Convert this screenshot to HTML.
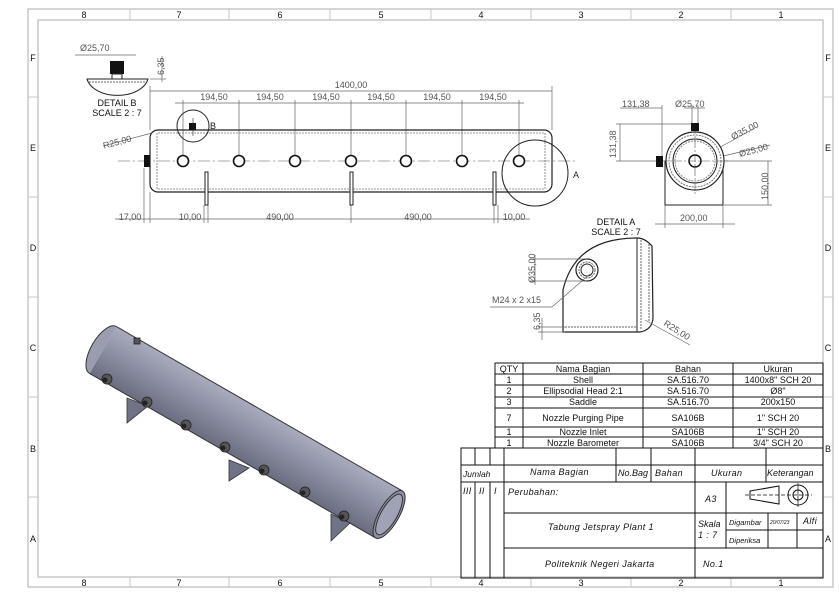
<!DOCTYPE html>
<html><head><meta charset="utf-8"><style>
html,body{margin:0;padding:0;background:#fff;}
svg{display:block;font-family:"Liberation Sans",sans-serif;}
.d{fill:#555;font-size:9px;}
.t{fill:#111;font-size:9px;text-anchor:middle;}
.i{fill:#111;font-size:9px;font-style:italic;letter-spacing:0.4px;}
</style></head><body>
<svg width="839" height="593" viewBox="0 0 839 593" xmlns="http://www.w3.org/2000/svg">
<defs>
<linearGradient id="g" x1="0" y1="0" x2="0" y2="1">
<stop offset="0" stop-color="#a9abbd"/><stop offset="0.35" stop-color="#9496ab"/><stop offset="1" stop-color="#6a6c80"/>
</linearGradient>
</defs>
<!-- border -->
<g fill="none" stroke="#c8c8c8" stroke-width="1.5">
<rect x="28" y="9" width="805" height="578"/>
<rect x="38" y="20" width="785" height="557"/>
</g>
<g stroke="#c8c8c8" stroke-width="1">
<line x1="130" y1="9" x2="130" y2="20"/><line x1="229" y1="9" x2="229" y2="20"/><line x1="330" y1="9" x2="330" y2="20"/><line x1="431" y1="9" x2="431" y2="20"/><line x1="531" y1="9" x2="531" y2="20"/><line x1="631" y1="9" x2="631" y2="20"/><line x1="731" y1="9" x2="731" y2="20"/>
<line x1="130" y1="577" x2="130" y2="587"/><line x1="229" y1="577" x2="229" y2="587"/><line x1="330" y1="577" x2="330" y2="587"/><line x1="431" y1="577" x2="431" y2="587"/><line x1="531" y1="577" x2="531" y2="587"/><line x1="631" y1="577" x2="631" y2="587"/><line x1="731" y1="577" x2="731" y2="587"/>
<line x1="28" y1="97" x2="38" y2="97"/><line x1="28" y1="197" x2="38" y2="197"/><line x1="28" y1="297" x2="38" y2="297"/><line x1="28" y1="397" x2="38" y2="397"/><line x1="28" y1="497" x2="38" y2="497"/>
<line x1="823" y1="97" x2="833" y2="97"/><line x1="823" y1="197" x2="833" y2="197"/><line x1="823" y1="297" x2="833" y2="297"/><line x1="823" y1="397" x2="833" y2="397"/><line x1="823" y1="497" x2="833" y2="497"/>
</g>
<g class="t" font-size="10">
<text x="84" y="18">8</text><text x="179" y="18">7</text><text x="280" y="18">6</text><text x="381" y="18">5</text><text x="481" y="18">4</text><text x="581" y="18">3</text><text x="681" y="18">2</text><text x="781" y="18">1</text>
<text x="84" y="586">8</text><text x="179" y="586">7</text><text x="280" y="586">6</text><text x="381" y="586">5</text><text x="481" y="586">4</text><text x="581" y="586">3</text><text x="681" y="586">2</text><text x="781" y="586">1</text>
<text x="33" y="61">F</text><text x="33" y="151">E</text><text x="33" y="251">D</text><text x="33" y="351">C</text><text x="33" y="452">B</text><text x="33" y="542">A</text>
<text x="828" y="61">F</text><text x="828" y="151">E</text><text x="828" y="251">D</text><text x="828" y="351">C</text><text x="828" y="452">B</text><text x="828" y="542">A</text>
</g>

<!-- Detail B -->
<path d="M87 79 L148 79 A31 20 0 0 1 87 79 Z" fill="none" stroke="#222"/>
<line x1="89" y1="82" x2="146" y2="82" stroke="#666" stroke-dasharray="2,1"/>
<rect x="110" y="61" width="14" height="13" fill="#111"/>
<rect x="112" y="74" width="10" height="5" fill="none" stroke="#222"/>
<line x1="75" y1="55" x2="136" y2="55" stroke="#666" stroke-width="0.7"/>
<text class="d" x="80" y="51">Ø25,70</text>
<line x1="162" y1="56" x2="162" y2="82" stroke="#666" stroke-width="0.7"/>
<line x1="150" y1="79" x2="166" y2="79" stroke="#666" stroke-width="0.7"/>
<text class="d" transform="translate(164,75) rotate(-90)">6,35</text>
<text class="t" x="117" y="106">DETAIL B</text><text class="t" x="117" y="116">SCALE 2 : 7</text>

<!-- Front view -->
<g stroke="#666" stroke-width="0.7" fill="none">
<line x1="150" y1="91" x2="552" y2="91"/><line x1="150" y1="86" x2="150" y2="130"/><line x1="552" y1="86" x2="552" y2="130"/>
<line x1="175" y1="103" x2="524" y2="103"/>
<line x1="183" y1="100" x2="183" y2="155"/><line x1="239" y1="100" x2="239" y2="155"/><line x1="295" y1="100" x2="295" y2="155"/><line x1="351" y1="100" x2="351" y2="155"/><line x1="406" y1="100" x2="406" y2="155"/><line x1="462" y1="100" x2="462" y2="155"/><line x1="519" y1="100" x2="519" y2="155"/>
<line x1="115" y1="219" x2="530" y2="219"/>
<line x1="144" y1="168" x2="144" y2="223"/><line x1="150" y1="192" x2="150" y2="223"/><line x1="204" y1="205" x2="204" y2="223"/><line x1="208" y1="205" x2="208" y2="223"/><line x1="351" y1="205" x2="351" y2="223"/><line x1="494" y1="205" x2="494" y2="223"/><line x1="498" y1="205" x2="498" y2="223"/>
<line x1="103" y1="146" x2="152" y2="133"/>
</g>
<g class="d" text-anchor="middle">
<text x="351" y="88">1400,00</text>
<text x="214" y="100">194,50</text><text x="270" y="100">194,50</text><text x="326" y="100">194,50</text><text x="381" y="100">194,50</text><text x="437" y="100">194,50</text><text x="493" y="100">194,50</text>
<text x="130" y="220">17,00</text><text x="190" y="220">10,00</text><text x="280" y="220">490,00</text><text x="418" y="220">490,00</text><text x="514" y="220">10,00</text>
<text transform="translate(118,145) rotate(-15)">R25,00</text>
</g>
<rect x="150" y="130" width="402" height="62" rx="8" fill="none" stroke="#222" stroke-width="1.2"/>
<g stroke="#777" stroke-width="0.8" stroke-dasharray="2,1" fill="none">
<line x1="158" y1="133" x2="545" y2="133"/><line x1="158" y1="189" x2="545" y2="189"/>
<line x1="157" y1="133" x2="157" y2="189"/><line x1="545" y1="133" x2="545" y2="189"/>
</g>
<line x1="118" y1="161" x2="575" y2="161" stroke="#555" stroke-width="0.6" stroke-dasharray="12,3,2,3"/>
<rect x="144" y="155" width="6" height="12" fill="#111"/>
<g fill="#fff" stroke="#111" stroke-width="1.6">
<circle cx="183" cy="161" r="5.5"/><circle cx="239" cy="161" r="5.5"/><circle cx="295" cy="161" r="5.5"/><circle cx="351" cy="161" r="5.5"/><circle cx="406" cy="161" r="5.5"/><circle cx="462" cy="161" r="5.5"/><circle cx="519" cy="161" r="5.5"/>
</g>
<g fill="#fff" stroke="#222">
<rect x="205" y="172" width="3" height="33"/><rect x="350" y="172" width="3" height="33"/><rect x="493" y="172" width="3" height="33"/>
</g>
<circle cx="193" cy="126" r="16" fill="none" stroke="#222"/>
<rect x="189" y="123" width="7" height="7" fill="#111"/>
<line x1="193" y1="118" x2="193" y2="136" stroke="#222" stroke-width="0.6"/>
<text x="210" y="129" font-size="9" fill="#222">B</text>
<circle cx="535" cy="173" r="33" fill="none" stroke="#222"/>
<text x="573" y="178" font-size="9" fill="#222">A</text>

<!-- Side view -->
<g stroke="#666" stroke-width="0.7" fill="none">
<line x1="620" y1="108" x2="662" y2="108"/><line x1="662" y1="105" x2="662" y2="157"/><line x1="684" y1="108" x2="705" y2="108"/><line x1="692" y1="105" x2="692" y2="124"/><line x1="698" y1="105" x2="698" y2="124"/>
<line x1="620" y1="124" x2="620" y2="161"/><line x1="616" y1="124" x2="692" y2="124"/><line x1="616" y1="161" x2="660" y2="161"/>
<line x1="695" y1="161" x2="755" y2="128"/><line x1="702" y1="161" x2="770" y2="145"/>
<line x1="768" y1="161" x2="768" y2="205"/><line x1="724" y1="161" x2="772" y2="161"/><line x1="724" y1="205" x2="772" y2="205"/>
<line x1="655" y1="224" x2="735" y2="224"/><line x1="665" y1="205" x2="665" y2="228"/><line x1="723" y1="205" x2="723" y2="228"/>
</g>
<rect x="665" y="161" width="58" height="44" fill="#fff" stroke="#222"/>
<circle cx="695" cy="161" r="29" fill="#fff" stroke="#222" stroke-width="1.2"/>
<circle cx="695" cy="161" r="26" fill="none" stroke="#777" stroke-dasharray="2,1"/>
<circle cx="695" cy="161" r="22" fill="none" stroke="#222"/>
<circle cx="695" cy="161" r="20" fill="none" stroke="#888" stroke-dasharray="2,1"/>
<circle cx="695" cy="161" r="6" fill="#fff" stroke="#111" stroke-width="1.5"/>
<line x1="660" y1="161" x2="730" y2="161" stroke="#555" stroke-width="0.6" stroke-dasharray="8,2,2,2"/>
<line x1="695" y1="126" x2="695" y2="196" stroke="#555" stroke-width="0.6" stroke-dasharray="8,2,2,2"/>
<rect x="656" y="156" width="7" height="11" fill="#111"/>
<rect x="691" y="123" width="8" height="8" fill="#111"/>
<g class="d">
<text x="622" y="107">131,38</text><text x="675" y="107">Ø25,70</text>
<text transform="translate(616,158) rotate(-90)">131,38</text>
<text transform="translate(733,140) rotate(-27)">Ø35,00</text>
<text transform="translate(740,157) rotate(-15)">Ø25,00</text>
<text transform="translate(768,200) rotate(-90)">150,00</text>
<text x="680" y="221">200,00</text>
</g>

<!-- Detail A -->
<text class="t" x="616" y="225">DETAIL A</text><text class="t" x="616" y="235">SCALE 2 : 7</text>
<path d="M563 332 L640 332 Q652 330 653 318 L652 246 Q645 238 637 238 Q575 238 563 290 Z" fill="#fff" stroke="#222" stroke-width="1.2"/>
<line x1="637" y1="238" x2="637" y2="332" stroke="#222"/>
<line x1="641" y1="240" x2="641" y2="330" stroke="#666" stroke-dasharray="2,1"/>
<line x1="649" y1="244" x2="649" y2="322" stroke="#666" stroke-dasharray="2,1"/>
<line x1="565" y1="327" x2="637" y2="327" stroke="#666" stroke-dasharray="2,1"/>
<circle cx="587" cy="270" r="11" fill="#fff" stroke="#222" stroke-width="1.2"/>
<circle cx="587" cy="270" r="8" fill="none" stroke="#666" stroke-dasharray="2,1"/>
<circle cx="587" cy="270" r="6" fill="none" stroke="#222"/>
<g stroke="#666" stroke-width="0.7" fill="none">
<line x1="530" y1="259" x2="587" y2="259"/><line x1="530" y1="281" x2="587" y2="281"/><line x1="535" y1="255" x2="535" y2="285"/>
<line x1="490" y1="307" x2="552" y2="307"/><line x1="552" y1="307" x2="590" y2="274"/>
<line x1="538" y1="327" x2="565" y2="327"/><line x1="538" y1="332" x2="565" y2="332"/><line x1="542" y1="318" x2="542" y2="340"/>
<line x1="645" y1="320" x2="690" y2="345"/>
</g>
<g class="d">
<text transform="translate(535,283) rotate(-90)">Ø35,00</text>
<text x="492" y="303">M24 x 2 x15</text>
<text transform="translate(540,330) rotate(-90)">6,35</text>
<text transform="translate(663,325) rotate(32)">R25,00</text>
</g>

<!-- 3D view -->
<g transform="translate(103,350) rotate(29.9)">
<rect x="0" y="-27" width="330" height="54" fill="url(#g)"/>
<line x1="0" y1="-27" x2="330" y2="-27" stroke="#333"/>
<line x1="0" y1="27" x2="330" y2="27" stroke="#333"/>
<path d="M0 -27 A12 27 0 0 0 0 27" fill="#9a9cb0" stroke="#333"/>
<ellipse cx="330" cy="0" rx="10" ry="27" fill="#8e90a4" stroke="#333"/>
<ellipse cx="330" cy="0" rx="8" ry="23" fill="#a0a2b5" stroke="#333"/>
</g>
<g fill="#707286" stroke="#333" stroke-width="0.8">
<polygon points="127,398 127,423 148,406"/>
<polygon points="229,460 229,481 249,468"/>
<polygon points="331,514 331,541 350,523"/>
</g>
<g fill="#555" stroke="#222" stroke-width="0.8">
<circle cx="107" cy="379" r="5"/><circle cx="147" cy="402" r="5"/><circle cx="186" cy="425" r="5"/><circle cx="225" cy="447" r="5"/><circle cx="264" cy="470" r="5"/><circle cx="305" cy="492" r="5"/><circle cx="344" cy="516" r="5"/>
<rect x="134" y="338" width="6" height="6"/>
</g>
<g fill="#222"><circle cx="105" cy="380" r="2.5"/><circle cx="145" cy="403" r="2.5"/><circle cx="184" cy="426" r="2.5"/><circle cx="223" cy="448" r="2.5"/><circle cx="262" cy="471" r="2.5"/><circle cx="303" cy="493" r="2.5"/><circle cx="342" cy="517" r="2.5"/></g>

<!-- BOM table -->
<g stroke="#111" stroke-width="1" fill="none">
<rect x="495" y="363" width="328" height="85"/>
<line x1="523" y1="363" x2="523" y2="448"/><line x1="643" y1="363" x2="643" y2="448"/><line x1="733" y1="363" x2="733" y2="448"/>
<line x1="495" y1="374" x2="823" y2="374"/><line x1="495" y1="385" x2="823" y2="385"/><line x1="495" y1="397" x2="823" y2="397"/><line x1="495" y1="408" x2="823" y2="408"/><line x1="495" y1="427" x2="823" y2="427"/><line x1="495" y1="437" x2="823" y2="437"/>
</g>
<g class="t">
<text x="509" y="372">QTY</text><text x="583" y="372">Nama Bagian</text><text x="688" y="372">Bahan</text><text x="778" y="372">Ukuran</text>
<text x="509" y="383">1</text><text x="583" y="383">Shell</text><text x="688" y="383">SA.516.70</text><text x="778" y="383">1400x8" SCH 20</text>
<text x="509" y="394">2</text><text x="583" y="394">Ellipsodial Head 2:1</text><text x="688" y="394">SA.516.70</text><text x="778" y="394">Ø8"</text>
<text x="509" y="405">3</text><text x="583" y="405">Saddle</text><text x="688" y="405">SA.516.70</text><text x="778" y="405">200x150</text>
<text x="509" y="421">7</text><text x="583" y="421">Nozzle Purging Pipe</text><text x="688" y="421">SA106B</text><text x="778" y="421">1" SCH 20</text>
<text x="509" y="435">1</text><text x="583" y="435">Nozzle Inlet</text><text x="688" y="435">SA106B</text><text x="778" y="435">1" SCH 20</text>
<text x="509" y="446">1</text><text x="583" y="446">Nozzle Barometer</text><text x="688" y="446">SA106B</text><text x="778" y="446">3/4" SCH 20</text>
</g>

<!-- Title block -->
<g stroke="#111" stroke-width="1" fill="none">
<rect x="461" y="448" width="362" height="130"/>
<line x1="461" y1="465" x2="823" y2="465"/><line x1="461" y1="482" x2="823" y2="482"/>
<line x1="504" y1="513" x2="823" y2="513"/><line x1="504" y1="548" x2="823" y2="548"/>
<line x1="475" y1="448" x2="475" y2="465"/><line x1="490" y1="448" x2="490" y2="465"/>
<line x1="475" y1="482" x2="475" y2="578"/><line x1="490" y1="482" x2="490" y2="578"/>
<line x1="504" y1="448" x2="504" y2="578"/>
<line x1="616" y1="448" x2="616" y2="482"/><line x1="651" y1="448" x2="651" y2="482"/>
<line x1="695" y1="448" x2="695" y2="578"/><line x1="766" y1="448" x2="766" y2="482"/>
<line x1="726" y1="482" x2="726" y2="548"/>
<line x1="768" y1="513" x2="768" y2="548"/><line x1="797" y1="513" x2="797" y2="548"/>
<line x1="726" y1="530" x2="823" y2="530"/>
</g>
<g class="i">
<text x="463" y="477" font-size="8.5" letter-spacing="0">Jumlah</text><text x="530" y="475">Nama Bagian</text><text x="618" y="476" letter-spacing="0">No.Bag</text><text x="655" y="476">Bahan</text><text x="711" y="476">Ukuran</text><text x="767" y="476" letter-spacing="0">Keterangan</text>
<text x="463" y="494">III</text><text x="479" y="494">II</text><text x="494" y="494">I</text><text x="508" y="495">Perubahan:</text>
<text x="705" y="502">A3</text>
<text x="548" y="530">Tabung Jetspray Plant 1</text>
<text x="698" y="527" letter-spacing="0">Skala</text><text x="698" y="538">1 : 7</text>
<text x="729" y="525" font-size="7.5" letter-spacing="0">Digambar</text><text x="729" y="543" font-size="7.5" letter-spacing="0">Diperiksa</text>
<text x="770" y="524" font-size="5" letter-spacing="0">20/07/23</text><text x="803" y="524">Alfi</text>
<text x="545" y="567">Politeknik Negeri Jakarta</text>
<text x="703" y="567">No.1</text>
</g>
<g stroke="#111" fill="none" stroke-width="1">
<polygon points="750,491 779,486 779,504 750,499"/>
<circle cx="798" cy="495" r="10"/><circle cx="798" cy="495" r="5"/>
<line x1="745" y1="495" x2="812" y2="495" stroke-dasharray="4,2" stroke-width="0.7"/>
<line x1="798" y1="483" x2="798" y2="507" stroke-width="0.7"/>
</g>
</svg>
</body></html>
